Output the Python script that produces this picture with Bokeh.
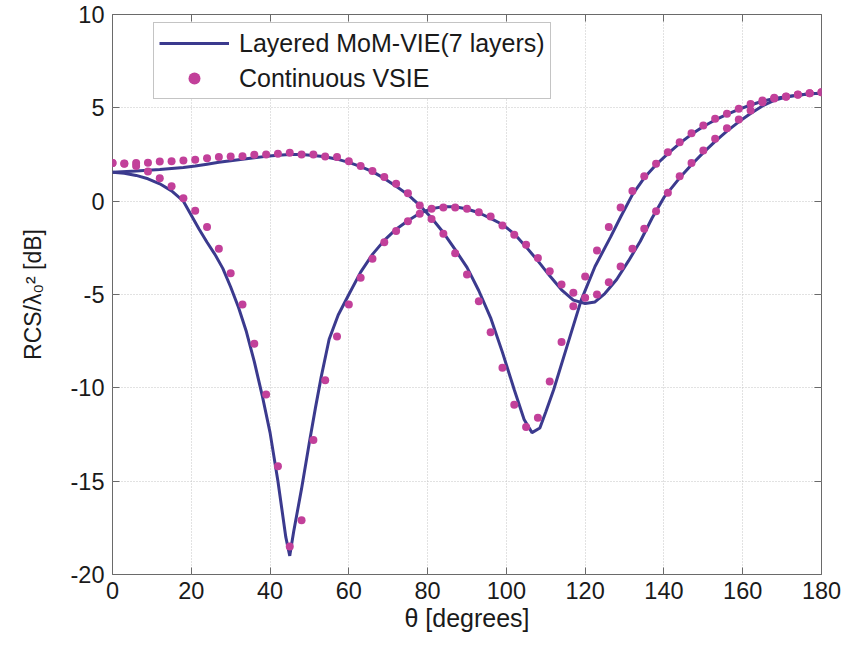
from bokeh.plotting import figure
from bokeh.models import Range1d, FixedTicker, LinearAxis, Legend, LegendItem
from bokeh.embed import file_html
from bokeh.resources import INLINE

# ---------------- data ----------------
theta_dots = list(range(0, 181, 3))

vsie_a = [2.04, 2.0, 1.88, 1.59, 1.23, 0.80, 0.15, -0.52, -1.39, -2.55,
          -3.86, -5.54, -7.64, -10.36, -14.2, -18.5, -17.1, -12.8, -9.6, -7.25,
          -5.54, -4.1, -3.09, -2.2, -1.6, -1.07, -0.68, -0.41, -0.34, -0.34,
          -0.41, -0.59, -0.82, -1.3, -1.8, -2.34, -3.05, -3.75, -4.46, -4.91,
          -5.18, -5.0, -4.34, -3.5, -2.55, -1.48, -0.54, 0.45, 1.34, 2.04,
          2.71, 3.34, 3.91, 4.38, 4.86, 5.3, 5.5, 5.6, 5.7, 5.78, 5.84]

vsie_b = [2.04, 2.02, 2.04, 2.06, 2.13, 2.14, 2.18, 2.22, 2.3, 2.36,
          2.39, 2.41, 2.48, 2.5, 2.54, 2.59, 2.5, 2.5, 2.39, 2.36,
          2.14, 1.88, 1.61, 1.29, 0.93, 0.43, -0.23, -0.95, -1.75, -2.79,
          -3.93, -5.36, -7.02, -8.93, -10.9, -12.1, -11.6, -9.66, -7.55, -5.63,
          -4.04, -2.64, -1.39, -0.34, 0.54, 1.34, 2.0, 2.62, 3.16, 3.64,
          4.05, 4.41, 4.68, 4.95, 5.2, 5.39, 5.54, 5.61, 5.71, 5.78, 5.84]

mom_a_theta = [0, 3, 6, 9, 12, 15, 18, 20, 22, 24, 26, 28, 30, 32, 34, 36, 38, 40, 42,
               44, 45, 46, 48, 50, 51.5, 53, 55, 57.3, 60, 63, 66, 69, 72, 75, 78, 81,
               84, 87, 90, 93, 96, 99, 102, 105, 108, 111, 114, 117, 120, 122.5, 125,
               128, 131, 134, 137, 140, 144, 147, 150, 153, 156, 159, 162, 165,
               168, 171, 174, 177, 180]
mom_a = [1.55, 1.5, 1.38, 1.2, 0.93, 0.55, 0.0, -0.75, -1.5, -2.2, -2.85, -3.6, -4.6,
         -5.7, -7.0, -8.6, -10.4, -12.4, -15.0,
         -18.0, -19.0, -17.7, -15.4, -12.9, -11.1, -9.4, -7.4, -6.1, -5.0, -3.8,
         -2.85, -2.1, -1.5, -1.05, -0.65, -0.4,
         -0.3, -0.3, -0.42, -0.62, -0.92, -1.25, -1.75, -2.45, -3.2, -4.0, -4.75,
         -5.3, -5.48, -5.4, -4.95,
         -4.2, -3.2, -2.15, -0.9, 0.2, 1.25, 1.95, 2.6, 3.2, 3.75, 4.25, 4.7, 5.1,
         5.4, 5.58, 5.68, 5.75, 5.78]

mom_b_theta = [0, 6, 12, 18, 21, 24, 27, 30, 33, 36, 39, 42, 45, 48, 51, 54, 57, 60,
               63, 66, 69, 72, 75, 78, 81, 84, 87, 90, 93, 96, 99, 102, 104.5, 106.5,
               108.5, 110, 112, 115.5, 119, 122.5, 126.5, 129, 132, 135, 138, 141,
               144, 147, 150, 153, 156, 159, 162, 165, 168, 171, 174, 177, 180]
mom_b = [1.55, 1.62, 1.7, 1.8, 1.88, 1.98, 2.08, 2.17, 2.25, 2.32, 2.4, 2.46, 2.5,
         2.5, 2.45, 2.38, 2.25, 2.08,
         1.85, 1.58, 1.22, 0.8, 0.35, -0.22, -0.9, -1.68, -2.6, -3.55, -4.8, -6.25,
         -8.1, -10.1, -11.7, -12.4,
         -12.15, -11.3, -10.1, -7.7, -5.3, -3.5, -1.9, -0.85, 0.35, 1.25, 1.95, 2.55,
         3.1, 3.58, 4.0, 4.35, 4.65, 4.92, 5.15, 5.35, 5.5, 5.6, 5.68, 5.75, 5.78]

x_ticks = [0, 20, 40, 60, 80, 100, 120, 140, 160, 180]
y_ticks = [-20, -15, -10, -5, 0, 5, 10]
y_tick_labels = ["-20", "-15", "-10", "-5", "0", "5", "10"]

legend_labels = ["Layered MoM-VIE(7 layers)", "Continuous VSIE"]
x_label = "θ [degrees]"
y_label = "RCS/λ₀² [dB]"

# ---------------- styling ----------------
FONT = "Liberation Sans"
LINE_COLOR = "#3b3a8e"
DOT_COLOR = "#c2409a"
FRAME_COLOR = "#6a6a6a"
TEXT_COLOR = "#1a1a1a"

p = figure(width=846, height=646, output_backend="svg", toolbar_location=None,
           x_range=Range1d(0, 180), y_range=Range1d(-20, 10),
           min_border_left=112, min_border_right=25, min_border_top=14,
           min_border_bottom=72)
p.background_fill_color = "white"
p.border_fill_color = "white"
p.outline_line_color = FRAME_COLOR
p.outline_line_width = 1

for ax, ticks in ((p.xaxis[0], x_ticks), (p.yaxis[0], y_ticks)):
    ax.ticker = FixedTicker(ticks=ticks)
    ax.axis_line_color = None
    ax.major_tick_in = 7
    ax.major_tick_out = 0
    ax.major_tick_line_color = FRAME_COLOR
    ax.minor_tick_line_color = None
    ax.major_label_text_font = FONT
    ax.major_label_text_font_size = "23.5px"
    ax.major_label_text_color = TEXT_COLOR
    ax.axis_label_text_font = FONT
    ax.axis_label_text_font_style = "normal"
    ax.axis_label_text_color = TEXT_COLOR

p.yaxis[0].major_label_overrides = {t: s for t, s in zip(y_ticks, y_tick_labels)}
p.xaxis[0].major_label_standoff = 7
p.yaxis[0].major_label_standoff = 8
p.xaxis[0].axis_label = x_label
p.xaxis[0].axis_label_text_font_size = "25px"
p.xaxis[0].axis_label_standoff = 2
p.yaxis[0].axis_label = y_label
p.yaxis[0].axis_label_text_font_size = "23px"
p.yaxis[0].axis_label_standoff = 22

# top and right axes: tick marks only (box style)
for loc, ticks in (("above", x_ticks), ("right", y_ticks)):
    ax = LinearAxis(ticker=FixedTicker(ticks=ticks), axis_line_color=None,
                    major_tick_in=7, major_tick_out=0, major_tick_line_color=FRAME_COLOR,
                    minor_tick_line_color=None, major_label_text_font_size="0px",
                    major_label_text_color=None, major_label_standoff=0)
    p.add_layout(ax, loc)

for g in (p.xgrid[0], p.ygrid[0]):
    g.grid_line_color = "#c4c4c4"
    g.grid_line_dash = "1 2"
    g.grid_line_width = 1
p.xgrid[0].ticker = FixedTicker(ticks=x_ticks)
p.ygrid[0].ticker = FixedTicker(ticks=y_ticks)

# ---------------- glyphs ----------------
la = p.line(mom_a_theta, mom_a, line_color=LINE_COLOR, line_width=3)
lb = p.line(mom_b_theta, mom_b, line_color=LINE_COLOR, line_width=3)
da = p.scatter(theta_dots, vsie_a, size=8, fill_color=DOT_COLOR, line_color=None)
db = p.scatter(theta_dots, vsie_b, size=8, fill_color=DOT_COLOR, line_color=None)

legend = Legend(items=[LegendItem(label=legend_labels[0], renderers=[la]),
                       LegendItem(label=legend_labels[1], renderers=[da])],
                location=(41, 475), padding=5, spacing=5, glyph_width=70,
                glyph_height=30, label_height=30, label_standoff=10,
                label_text_font=FONT, label_text_font_size="25px",
                label_text_color=TEXT_COLOR, border_line_color="#8a8a8a",
                border_line_width=1, background_fill_color="white",
                background_fill_alpha=1.0, margin=0)
p.add_layout(legend, "center")

open("out.html", "w").write(file_html(p, INLINE))
